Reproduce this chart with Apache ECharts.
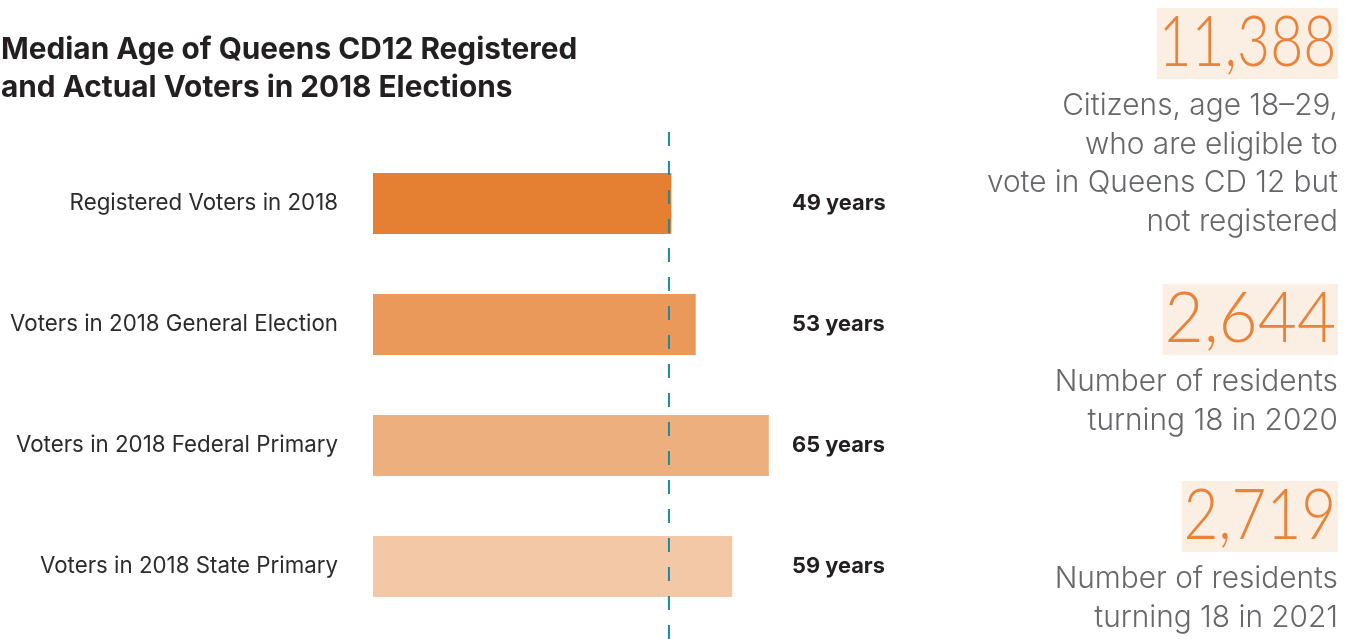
<!DOCTYPE html>
<html>
<head>
<meta charset="utf-8">
<script src="https://cdn.jsdelivr.net/npm/echarts@6/dist/echarts.min.js"></script>
<style>
  html, body { margin: 0; padding: 0; background: #fff; }
  #chart { width: 1357px; height: 639px; }
</style>
</head>
<body>
<div id="chart"></div>
<script>
// ---- data ----
const categories = [
  'Registered Voters in 2018',
  'Voters in 2018 General Election',
  'Voters in 2018 Federal Primary',
  'Voters in 2018 State Primary'
];
const medianAges = [49, 53, 65, 59];
const barColors = ['#E58033', '#EB995B', '#EEAF7F', '#F3C8A6'];
const referenceAge = [48.6];
const statValues = ['11,388', '2,644', '2,719'];
const statLabels = [
  ['Citizens, age 18\u201329,', 'who are eligible to', 'vote in Queens CD 12 but', 'not registered'],
  ['Number of residents', 'turning 18 in 2020'],
  ['Number of residents', 'turning 18 in 2021']
];
const titleText = 'Median Age of Queens CD12 Registered\nand Actual Voters in 2018 Elections';

// ---- layout ----
const FONT = 'Inter, "Open Sans", sans-serif';
const NUM_FONT = 'Lato, sans-serif';
const statTops = [8, 284, 481];
const statScaleX = [0.815, 0.965, 0.86];
const RIGHT_X = 1338;

const graphics = [];
statValues.forEach((v, i) => {
  const top = statTops[i];
  graphics.push({
    type: 'text',
    x: RIGHT_X,
    y: top,
    scaleX: statScaleX[i],
    style: {
      text: v,
      align: 'right',
      verticalAlign: 'top',
      font: '300 70px ' + NUM_FONT,
      fill: '#E8833A',
      backgroundColor: '#FBEEE3',
      lineHeight: 71,
      padding: [0, 2, 0, 2]
    }
  });
  graphics.push({
    type: 'text',
    x: RIGHT_X,
    y: top + 79,
    style: {
      text: statLabels[i].join('\n'),
      align: 'right',
      verticalAlign: 'top',
      font: '300 29.8px ' + FONT,
      fill: '#66676A',
      lineHeight: 38.5
    }
  });
});

const chart = echarts.init(document.getElementById('chart'));
chart.setOption({
  animation: false,
  backgroundColor: '#ffffff',
  title: {
    text: titleText,
    left: -4,
    top: 26,
    textStyle: {
      fontFamily: FONT,
      fontWeight: 'bold',
      fontSize: 29.8,
      lineHeight: 38,
      color: '#231F20'
    }
  },
  grid: [
    { left: 373, right: 576, top: 143, bottom: 12 },
    { left: 373, right: 576, top: 126, bottom: 0 }
  ],
  xAxis: [
    { type: 'value', gridIndex: 0, min: 0, max: 67, show: false },
    { type: 'value', gridIndex: 1, min: 0, max: 67, show: false }
  ],
  yAxis: [
    {
      type: 'category', gridIndex: 0, data: categories, inverse: true,
      axisLine: { show: false }, axisTick: { show: false },
      axisLabel: { margin: 35, fontFamily: FONT, fontSize: 22.3, color: '#2B2B2B' }
    },
    {
      type: 'category', gridIndex: 0, position: 'right', inverse: true,
      data: medianAges.map(v => v + ' years'),
      axisLine: { show: false }, axisTick: { show: false },
      axisLabel: { margin: 11, align: 'left', fontFamily: FONT, fontSize: 21.8, fontWeight: 'bold', color: '#231F20' }
    },
    { type: 'value', gridIndex: 1, min: 0, max: 1, show: false }
  ],
  series: [
    {
      type: 'bar',
      xAxisIndex: 0, yAxisIndex: 0,
      barWidth: 61,
      data: medianAges.map((v, i) => ({ value: v, itemStyle: { color: barColors[i] } })),
      silent: true
    },
    {
      type: 'line',
      xAxisIndex: 1, yAxisIndex: 2,
      data: [[referenceAge[0], 0], [referenceAge[0], 1]],
      symbol: 'none',
      lineStyle: { color: '#1F8A9B', width: 2, type: [14, 15] },
      z: 5,
      silent: true
    }
  ],
  graphic: graphics
});
</script>
</body>
</html>
